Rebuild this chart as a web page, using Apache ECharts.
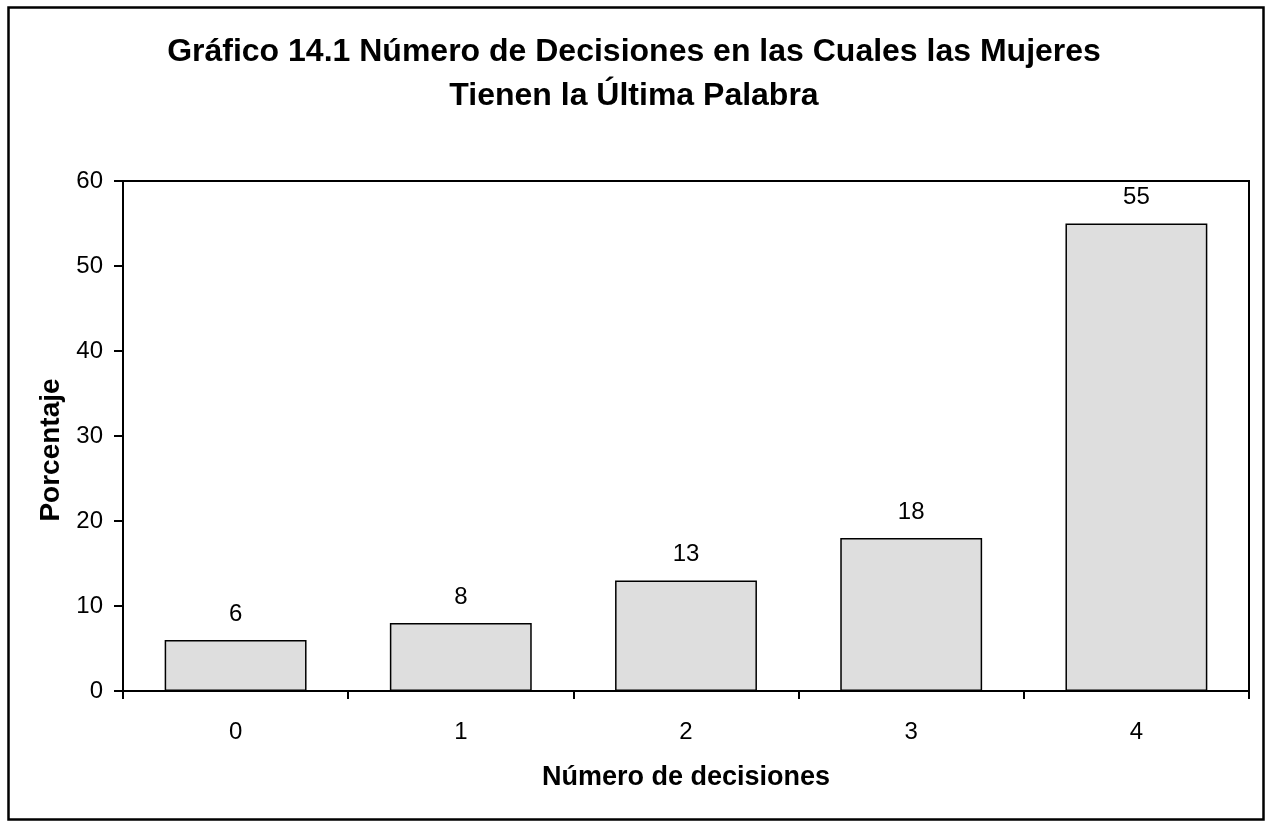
<!DOCTYPE html>
<html>
<head>
<meta charset="utf-8">
<script src="https://cdn.jsdelivr.net/npm/echarts@6/dist/echarts.min.js"></script>
<style>
html,body{margin:0;padding:0;background:#fff;}
#chart{width:1268px;height:821px;}
</style>
</head>
<body>
<div id="chart"></div>
<script>
// Number of decisions where women have the final say
const categories = ['0', '1', '2', '3', '4'];
const percentages = [6, 8, 13, 18, 55];
const yTicks = { min: 0, max: 60, interval: 10 };

const FONT = '"Liberation Sans", Arial, sans-serif';
const chart = echarts.init(document.getElementById('chart'), null, { renderer: 'canvas' });

chart.setOption({
  backgroundColor: '#ffffff',
  animation: false,
  title: {
    text: 'Gráfico 14.1 Número de Decisiones en las Cuales las Mujeres\nTienen la Última Palabra',
    left: 'center',
    top: 30,
    padding: [0, 0, 0, 12],
    textStyle: { fontFamily: FONT, fontSize: 32, fontWeight: 'bold', color: '#000', lineHeight: 44 }
  },
  graphic: [
    {
      // outer chart border
      type: 'rect',
      shape: { x: 8.5, y: 7.5, width: 1255, height: 812 },
      style: { fill: 'none', stroke: '#000', lineWidth: 2.5 },
      silent: true
    },
    {
      // top and right edges of the plot frame
      type: 'polyline',
      shape: { points: [[123, 181], [1249, 181], [1249, 691]] },
      style: { fill: 'none', stroke: '#000', lineWidth: 2 },
      silent: true
    }
  ],
  grid: { left: 123, right: 19, top: 181, bottom: 130, containLabel: false },
  xAxis: {
    type: 'category',
    data: categories,
    name: 'Número de decisiones',
    nameLocation: 'middle',
    nameGap: 73,
    nameTextStyle: { fontFamily: FONT, fontSize: 27, fontWeight: 'bold', color: '#000' },
    axisLine: { lineStyle: { color: '#000', width: 2 } },
    axisTick: { show: true, length: 8, lineStyle: { color: '#000', width: 2 }, alignWithLabel: false },
    axisLabel: { fontFamily: FONT, fontSize: 24, color: '#000', margin: 29 }
  },
  yAxis: {
    type: 'value',
    min: yTicks.min,
    max: yTicks.max,
    interval: yTicks.interval,
    name: 'Porcentaje',
    nameLocation: 'middle',
    nameGap: 57,
    nameTextStyle: { fontFamily: FONT, fontSize: 28, fontWeight: 'bold', color: '#000', padding: [0, 28, 0, 0] },
    axisLine: { show: true, lineStyle: { color: '#000', width: 2 } },
    axisTick: { show: true, inside: false, length: 9, lineStyle: { color: '#000', width: 2 } },
    splitLine: { show: false },
    axisLabel: { fontFamily: FONT, fontSize: 24, color: '#000', margin: 20 }
  },
  series: [{
    type: 'bar',
    data: percentages,
    barCategoryGap: '37%',
    itemStyle: { color: '#dedede', borderColor: '#000', borderWidth: 1.5 },
    label: {
      show: true,
      position: 'top',
      distance: 14,
      fontFamily: FONT,
      fontSize: 24,
      color: '#000'
    }
  }]
});
</script>
</body>
</html>
